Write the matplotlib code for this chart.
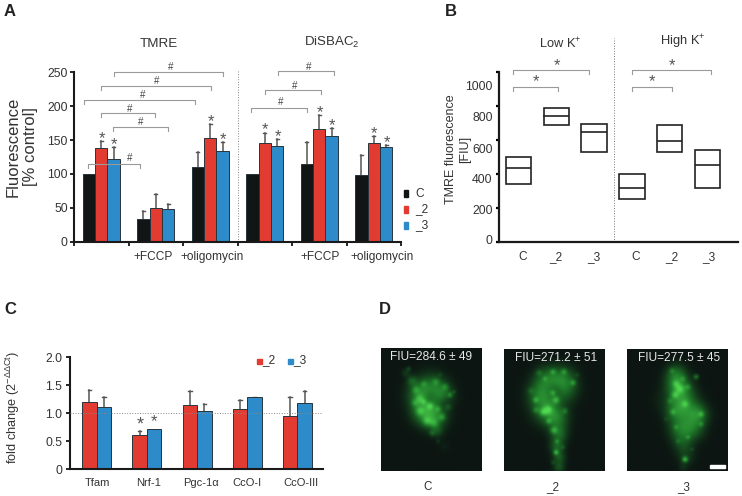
#!/usr/bin/env python3
# -*- coding: utf-8 -*-
import numpy as np
import matplotlib
matplotlib.use('Agg')
import matplotlib.pyplot as plt
from matplotlib.colors import LinearSegmentedColormap

plt.rcParams['font.family'] = ['Liberation Sans', 'DejaVu Sans']
plt.rcParams['mathtext.default'] = 'regular'

W, H = 742, 496
BLACK, RED, BLUE = '#111516', '#e23b32', '#2e8bc9'
TXT = '#333333'
GREY = '#9a9a9a'

# panel A
a_c = [100, 33, 110, 100, 115, 99]
a_2 = [138, 49, 153, 146, 166, 145]
a_3 = [122, 48, 134, 141, 156, 140]
a_c_top = [100, 45, 133, 100, 147, 128]
a_2_top = [148, 71, 173, 161, 187, 156]
a_3_top = [140, 55, 147, 151, 168, 142]
a_labels = ['+FCCP', '+oligomycin', '+FCCP', '+oligomycin']
a_label_x = [1.46, 2.53, 4.51, 5.65]
# from, to, height
a_brackets = [(0.263, 1.211, 115), (0.709, 1.731, 170), (0.491, 1.486, 189.5),
              (0.190, 2.220, 209), (0.496, 2.508, 230), (0.728, 2.734, 251),
              (3.254, 4.276, 198), (3.511, 4.538, 224), (3.743, 4.777, 251.5)]
a_hash = [(1.02, 123), (1.23, 177), (1.02, 196), (1.26, 217), (1.52, 237), (1.78, 258),
          (3.80, 206), (4.05, 230), (4.30, 258)]
a_stars = [(0.51, 152), (0.74, 143), (2.51, 177), (2.74, 151),
           (3.51, 166), (3.74, 155), (4.51, 191), (4.74, 172), (5.51, 160), (5.74, 146)]

# panel B
b_low = [343, 688, 531, 253, 529, 318]
b_mid = [435, 743, 651, 320, 598, 457]
b_high = [502, 792, 698, 400, 690, 541]
b_ticks = [0, 200, 400, 600, 800, 1000]
b_tick_labels = ['0', '200', '400', '600', '800', '1000']
b_label_y = [8, 186, 367, 543, 729, 916]
b_names = ['C', '_2', '_3', 'C', '_2', '_3']
b_name_x = [0.11, 0.99, 2.0, 3.11, 4.06, 5.02]
b_brackets = [(-0.132, 1.039, 916), (-0.132, 1.87, 1016), (2.99, 4.05, 916), (2.99, 5.08, 1016)]
b_stars = [(0.48, 945), (1.03, 1040), (3.52, 945), (4.05, 1040)]

# panel C
c_genes = ['Tfam', 'Nrf-1', 'Pgc-1α', 'CcO-I', 'CcO-III']
c_gene_x = [0.01, 1.04, 2.07, 2.99, 4.07]
c_2 = [1.21, 0.62, 1.14, 1.07, 0.95]
c_3 = [1.12, 0.72, 1.05, 1.29, 1.18]
c_2_top = [1.41, 0.68, 1.40, 1.23, 1.30]
c_3_top = [1.30, 0.72, 1.17, 1.30, 1.39]

# panel D, blobs in image pixels: x, y, size, brightness (negative = dark nucleus)
d_blobs_c = [(38, 45, 9, .42), (50, 38, 10, .36), (60, 47, 8, .36), (42, 62, 9, .46), (52, 68, 9, .44),
             (30, 32, 3.5, .25), (24, 24, 3, .15), (55, 82, 4, .2), (62, 97, 4, .05),
             (48, 48, 6, -.22), (62, 54, 5, -.15),
             (34, 41, 2.5, .25), (38, 50, 3, .3), (33, 54, 2.5, .25), (42, 35, 2, .2), (54, 33, 2.5, .25),
             (63, 38, 2.5, .25), (68, 46, 1.8, .3), (66, 58, 2.5, .2), (38, 62, 3, .3), (45, 72, 3, .35),
             (52, 74, 3, .3), (60, 68, 2.5, .3), (48, 57, 2.5, .35), (56, 60, 2, .25), (42, 53, 2, .25),
             (50, 84, 2, .2), (56, 92, 1.5, .12), (27, 20, 1.5, .2), (72, 43, 1.2, .2), (58, 26, 1.5, .1)]
d_blobs_2 = [(42, 30, 9, .38), (58, 30, 9, .38), (35, 45, 9, .38), (60, 42, 9, .28), (42, 60, 10, .46),
             (52, 70, 8, .38), (54, 85, 6, .34), (52, 97, 5, .34), (54, 108, 4.5, .3), (54, 118, 4, .26),
             (50, 40, 6, -.12),
             (48, 23, 2, .3), (59, 23, 2, .3), (34, 24, 2, .2), (68, 34, 2, .35), (48, 44, 2, .3),
             (31, 51, 2, .3), (51, 51, 2.5, .4), (43, 61, 3, .45), (31, 61, 2, .25), (49, 81, 2.5, .4),
             (51, 103, 1.8, .5), (38, 63, 2.5, .35), (40, 30, 1.6, .2), (26, 42, 2, .15), (60, 62, 2, .25),
             (52, 92, 1.5, .25), (58, 98, 1.5, .15), (48, 113, 1.5, .15), (72, 26, 1.5, .12), (44, 72, 2, .3)]
d_blobs_3 = [(48, 25, 7, .34), (50, 38, 9, .46), (55, 50, 9, .34), (48, 62, 8, .36), (62, 65, 10, .34),
             (70, 65, 7, .3), (52, 80, 8, .36), (65, 80, 8, .3), (55, 95, 7, .24), (58, 108, 6, .15),
             (55, 118, 3, .1), (58, 68, 8, -.06), (32, 52, 7, .04),
             (68, 28, 1.8, .4), (48, 35, 2.5, .3), (47, 46, 2.5, .35), (57, 55, 2.5, .3), (45, 63, 2, .25),
             (73, 65, 2, .3), (57, 110, 2, .6), (52, 40, 3, .35), (44, 22, 1.8, .2), (60, 38, 2, .25),
             (42, 52, 2, .2), (73, 75, 1.8, .25), (48, 78, 1.6, .2), (60, 88, 1.5, .25), (50, 92, 1.5, .18),
             (64, 100, 1.2, .15), (38, 70, 1.5, .12), (55, 30, 2, .2)]
d_texts = ['FIU=284.6 ± 49', 'FIU=271.2 ± 51', 'FIU=277.5 ± 45']
d_names = ['C', '_2', '_3']

fig = plt.figure(figsize=(W / 100, H / 100), dpi=100)


def px_axes(left, top, right, bottom):
    return fig.add_axes([left / W, 1 - bottom / H, (right - left) / W, (bottom - top) / H])


def fig_text(x, y, s, **kw):
    kw.setdefault('color', TXT)
    kw.setdefault('ha', 'center')
    kw.setdefault('va', 'center')
    fig.text(x / W, 1 - y / H, s, **kw)


def clean(ax, lw=1.5):
    for s in ['top', 'right']:
        ax.spines[s].set_visible(False)
    for s in ['left', 'bottom']:
        ax.spines[s].set_linewidth(lw)
        ax.spines[s].set_color('#1a1a1a')
    ax.patch.set_alpha(0)


def bracket(ax, x0, x1, y, drop, color=GREY):
    ax.plot([x0, x0, x1, x1], [y - drop, y, y, y - drop], color=color, lw=0.8, clip_on=False)


def star(ax, x, y, size=12):
    ax.text(x, y, '*', ha='center', va='center', fontsize=size, color='#555555', clip_on=False)


def bars(ax, x, vals, tops, width, color):
    ax.bar(x, vals, width, color=color, edgecolor='#26343c', lw=0.7, zorder=2)
    for xi, v, t in zip(x, vals, tops):
        if t > v:
            ax.plot([xi, xi], [v, t], color='#555555', lw=1.1, zorder=1)
            ax.plot([xi - width * 0.12, xi + width * 0.12], [t, t], color='#555555', lw=1.0, zorder=1)


# ---- A
ax = px_axes(74, 72.3, 401, 241.7)
clean(ax)
centers = np.arange(6) + 0.5
bw = 0.227
bars(ax, centers - bw, a_c, a_c_top, bw, BLACK)
bars(ax, centers, a_2, a_2_top, bw, RED)
bars(ax, centers + bw, a_3, a_3_top, bw, BLUE)
ax.set_xlim(0, 6)
ax.set_ylim(0, 250)
ax.set_yticks([0, 50, 100, 150, 200, 250])
ax.set_xticks(range(7))
ax.set_xticklabels([])
ax.tick_params(axis='y', labelsize=8.8, labelcolor=TXT, length=3, width=1.2, pad=1.5)
ax.tick_params(axis='x', length=3, width=1.2)
ax.plot([3, 3], [0, 252], color='#888888', lw=0.7, ls=':', clip_on=False)
for x0, x1, y in a_brackets:
    bracket(ax, x0, x1, y, 6)
for x, y in a_hash:
    ax.text(x, y, '#', ha='center', va='center', fontsize=7, color='#444444', clip_on=False)
for x, y in a_stars:
    star(ax, x, y)
for x, s in zip(a_label_x, a_labels):
    ax.text(x, -22, s, ha='center', va='center', fontsize=8.6, color=TXT, clip_on=False)
fig_text(159, 44, 'TMRE', fontsize=9.6)
fig_text(332, 42, r'DiSBAC$_2$', fontsize=9.5)
fig_text(22, 147, 'Fluorescence\n[% control]', fontsize=12, rotation=90, linespacing=1.2)
for y, c, s in zip([193.7, 209.5, 225.5], [BLACK, RED, BLUE], ['C', '_2', '_3']):
    fig.patches.append(plt.Rectangle((403.5 / W, 1 - (y + 3) / H), 5 / W, 6.5 / H, color=c,
                                     transform=fig.transFigure))
    fig_text(415, y, s, fontsize=8.6, ha='left')
fig_text(10, 11, 'A', fontsize=12, fontweight='bold', color='#222222')

# ---- B
ax = px_axes(499.3, 72.3, 738.3, 242.3)
clean(ax, 1.6)
xs = np.arange(6)
ax.bar(xs, np.array(b_high) - np.array(b_low), 0.669, bottom=b_low, fill=False,
       edgecolor='#222222', lw=1.2, zorder=2)
ax.hlines(b_mid, xs - 0.335, xs + 0.335, color='#222222', lw=1.2)
ax.set_xlim(-0.502, 5.81)
ax.set_ylim(0, 1000)
ax.set_yticks(b_ticks)
ax.set_yticklabels([])
ax.set_xticks([])
ax.tick_params(axis='y', length=2, width=1.6)
for y, s in zip(b_label_y, b_tick_labels):
    ax.text(-0.68, y, s, ha='right', va='center', fontsize=8.8, color=TXT, clip_on=False)
for x, s in zip(b_name_x, b_names):
    ax.text(x, -85, s, ha='center', va='center', fontsize=8.6, color=TXT, clip_on=False)
ax.plot([2.535, 2.535], [0, 1204], color='#777777', lw=0.7, ls=':', clip_on=False)
for x0, x1, y in b_brackets:
    bracket(ax, x0, x1, y, 25)
for x, y in b_stars:
    star(ax, x, y)
fig_text(560, 44, 'Low K$^{+}$', fontsize=9.3)
fig_text(683, 42, 'High K$^{+}$', fontsize=9.3)
fig_text(458, 149, 'TMRE fluorescence\n[FIU]', fontsize=9, rotation=90, linespacing=1.2)
fig_text(451, 11, 'B', fontsize=12, fontweight='bold', color='#222222')

# ---- C
ax = px_axes(70, 357.3, 322.7, 469.3)
clean(ax)
xs = np.arange(5)
bw = 0.289
ax.axhline(1.0, color='#888888', lw=0.7, ls=':', zorder=3)
bars(ax, xs - bw / 2, c_2, c_2_top, bw, RED)
bars(ax, xs + bw / 2, c_3, c_3_top, bw, BLUE)
ax.set_xlim(-0.532, 4.505)
ax.set_ylim(0, 2)
ax.set_yticks([0, 0.5, 1.0, 1.5, 2.0])
ax.set_yticklabels(['0', '0.5', '1.0', '1.5', '2.0'])
ax.set_xticks([])
ax.tick_params(axis='y', labelsize=8.8, labelcolor=TXT, length=3, width=1.2, pad=2.5)
for x, s in zip(c_gene_x, c_genes):
    ax.text(x, -0.25, s, ha='center', va='center', fontsize=8, color=TXT, clip_on=False)
star(ax, 0.86, 0.8, 13)
star(ax, 1.15, 0.85, 12)
for x, c, s in zip([259, 290], [RED, BLUE], ['_2', '_3']):
    fig.patches.append(plt.Rectangle(((x - 2) / W, 1 - 364 / H), 4.5 / W, 5 / H, color=c,
                                     transform=fig.transFigure))
    fig_text(x + 3, 360, s, fontsize=8.6, ha='left')
fig_text(13, 408, r'fold change (2$^{-\Delta\Delta Ct}$)', fontsize=9.2, rotation=90)
fig_text(10, 310, 'C', fontsize=12, fontweight='bold', color='#222222')

# ---- D
cmap = LinearSegmentedColormap.from_list('grn', ['#0c1512', '#1f7a2a', '#4fd850'])
yy, xx = np.mgrid[0:122, 0:100]
d_boxes = [(381, 348.3), (504, 349), (626.7, 348.7)]
d_text_x = [431, 555.7, 679]
d_name_x = [427.7, 553, 684]
for (left, top), blobs, txt, nm, tx, nx in zip(d_boxes, [d_blobs_c, d_blobs_2, d_blobs_3], d_texts, d_names,
                                               d_text_x, d_name_x):
    ax = px_axes(left, top, left + 100.3, top + 122.3)
    img = np.zeros(xx.shape)
    for bx, by, s, v in blobs:
        img += v * np.exp(-((xx - bx) ** 2 + (yy - by) ** 2) / (2 * s ** 2))
    ax.imshow(np.clip(img, 0, 1), cmap=cmap, vmin=0, vmax=1, aspect='auto', interpolation='bilinear')
    ax.axis('off')
    fig_text(tx, top + 9, txt, fontsize=8.6, color='#e8e8e8')
    fig_text(nx, 487.5, nm, fontsize=8.4)
fig.patches.append(plt.Rectangle((710.3 / W, 1 - 468 / H), 15 / W, 3.3 / H, color='white',
                                 transform=fig.transFigure, zorder=5))
fig_text(385, 310, 'D', fontsize=12, fontweight='bold', color='#222222')

fig.savefig('out.png', dpi=100)
